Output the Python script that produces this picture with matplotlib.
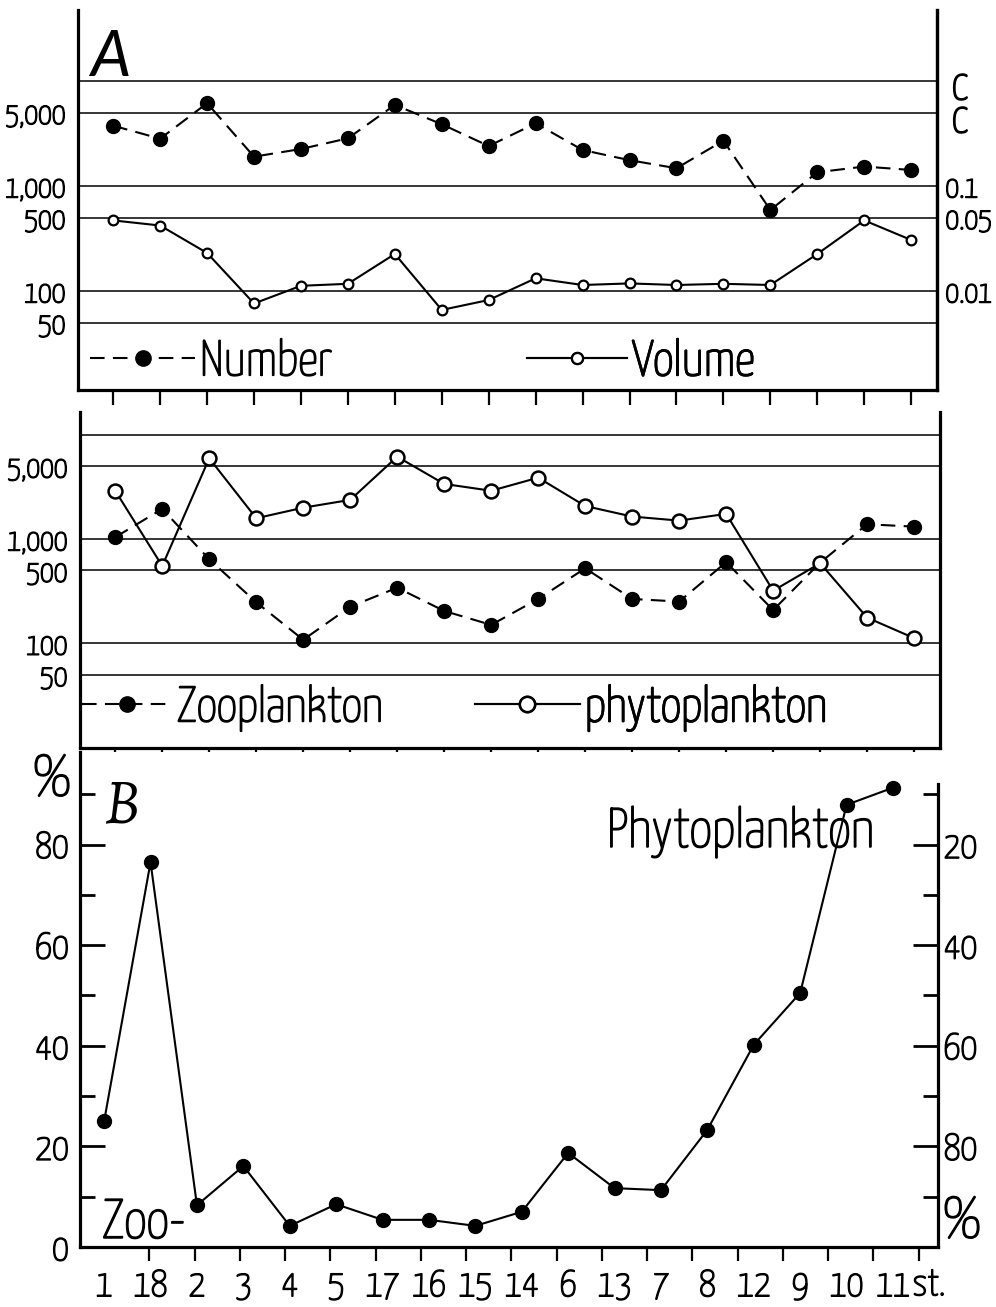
import numpy as np
import matplotlib
matplotlib.use("Agg")
import matplotlib.pyplot as plt
import matplotlib.transforms as mtransforms
import matplotlib.patheffects as pe
from matplotlib.text import Text
from matplotlib.lines import Line2D
from matplotlib.ticker import NullLocator, NullFormatter

# ─── figure size (px) and fonts ────────────────────────────────
W, H = 996, 1307
FONT = ["Yanone Kaffeesatz", "DejaVu Sans"]
ITAL = ["Lato", "DejaVu Sans"]
SERIF = ["Alegreya", "Liberation Serif", "DejaVu Serif"]
plt.rcParams["font.family"] = FONT

# ─── data ──────────────────────────────────────────────────────
stations = ["1", "18", "2", "3", "4", "5", "17", "16", "15", "14",
            "6", "13", "7", "8", "12", "9", "10", "11"]

# A, upper: number of organisms and settled volume (cc)
number = [3750, 2820, 6140, 1900, 2250, 2840, 5910, 3870, 2400, 3950,
          2200, 1760, 1475, 2700, 590, 1350, 1530, 1420]
volume_cc = [0.047, 0.042, 0.023, 0.0076, 0.0112, 0.0117, 0.0225, 0.0066, 0.0082,
             0.0132, 0.0114, 0.0118, 0.0114, 0.0117, 0.0114, 0.0225, 0.047, 0.0306]

# A, lower: zooplankton / phytoplankton numbers
zooplankton = [1040, 1940, 639, 247, 108, 224, 341, 204, 150, 266,
               523, 266, 251, 599, 208, 593, 1384, 1313]
phytoplankton = [2900, 551, 5940, 1580, 1995, 2370, 6150, 3370, 2900, 3870,
                 2070, 1640, 1500, 1740, 319, 585, 176, 112]

# B: zooplankton share (%), phytoplankton = 100 - zoo
zoo_pct = [25.0, 76.5, 8.3, 16.1, 4.2, 8.5, 5.4, 5.4, 4.2, 7.0,
           18.7, 11.7, 11.3, 23.3, 40.2, 50.5, 87.9, 91.3]

log_ticks = [10000, 5000, 1000, 500, 100, 50]
log_labels = ["", "5,000", "1,000", "500", "100", "50"]
cc_ticks = [0.1, 0.05, 0.01]
cc_labels = ["0.1", "0.05", "0.01"]
pct_ticks = [0, 20, 40, 60, 80]
pct_minor = [10, 30, 50, 70, 90]
phyto_ticks = [20, 40, 60, 80]
# ───────────────────────────────────────────────────────────────

x = np.arange(len(stations))
LW = 1.5
DASH = (0, (7, 4))
KEY_SIZE = 36


def box(x0, y0, x1, y1):
    """pixel box (top-left origin) -> figure fraction rect"""
    return [x0 / W, 1 - y1 / H, (x1 - x0) / W, (y1 - y0) / H]


def style_log_panel(ax, ylim):
    ax.set_yscale("log")
    ax.set_ylim(*ylim)
    ax.set_xlim(-0.75, 17.55)
    for y in log_ticks:
        ax.axhline(y, color="black", lw=1.1, zorder=1)
    ax.set_yticks(log_ticks, log_labels)
    ax.yaxis.set_minor_locator(NullLocator())
    ax.yaxis.set_minor_formatter(NullFormatter())
    ax.tick_params(axis="y", length=0, pad=9, labelsize=22)
    ax.set_xticks(x, [""] * len(x))
    ax.tick_params(axis="x", direction="out", length=11, width=1.6)
    ax.spines["top"].set_visible(False)
    for s in ("left", "right", "bottom"):
        ax.spines[s].set_linewidth(2.3)


def add_key(ax, handle, label, x0, y0, hl):
    leg = ax.legend([handle], [label], loc="center left", bbox_to_anchor=(x0, y0),
                    frameon=False, prop={"family": FONT, "size": KEY_SIZE},
                    handlelength=hl, handletextpad=0.1, borderpad=0, borderaxespad=0)
    ax.add_artist(leg)


fig = plt.figure(figsize=(W / 100, H / 100), dpi=100)

# ----------------------- panel A, upper ------------------------
ax1 = fig.add_axes(box(78, 10, 937, 390))
style_log_panel(ax1, (11.4, 47400))
ax1.plot(x, number, color="black", lw=LW, ls=DASH, marker="o", ms=10,
         mfc="black", mec="black", zorder=3)

ax1b = ax1.twinx()
ax1b.set_yscale("log")
lo, hi = ax1.get_ylim()
ax1b.set_ylim(lo * 1e-4, hi * 1e-4)
ax1b.set_yticks(cc_ticks, cc_labels)
ax1b.yaxis.set_minor_locator(NullLocator())
ax1b.yaxis.set_minor_formatter(NullFormatter())
ax1b.tick_params(axis="y", length=0, pad=6, labelsize=22)
for s in ("left", "top", "bottom"):
    ax1b.spines[s].set_visible(False)
ax1b.spines["right"].set_linewidth(2.3)
ax1b.plot(x, volume_cc, color="black", lw=LW, marker="o", ms=7,
          mfc="white", mec="black", mew=1.6, zorder=3)

add_key(ax1b, Line2D([], [], color="black", lw=LW, ls=DASH, marker="o", ms=11, mfc="black"),
        "Number", 0.014, 0.074, 2.1)
add_key(ax1b, Line2D([], [], color="black", lw=LW, marker="o", ms=8, mfc="white", mew=1.6),
        "Volume", 0.523, 0.074, 2.0)

panel_tags = [
    fig.text(90 / W, 1 - 76 / H, "A", fontsize=46, style="italic",
             family=ITAL, ha="left", va="baseline"),
]
# "cc" is lettered one c above the other
fig.text(960 / W, 1 - 86 / H, "c", fontsize=36, ha="center", va="center")
fig.text(960 / W, 1 - 119 / H, "c", fontsize=36, ha="center", va="center")

# ----------------------- panel A, lower ------------------------
ax2 = fig.add_axes(box(80, 412, 940, 748))
style_log_panel(ax2, (9.9, 16500))
ax2.plot(x, zooplankton, color="black", lw=LW, ls=DASH, marker="o", ms=10,
         mfc="black", mec="black", zorder=3)
ax2.plot(x, phytoplankton, color="black", lw=LW, marker="o", ms=10,
         mfc="white", mec="black", mew=1.8, zorder=4)

add_key(ax2, Line2D([], [], color="black", lw=LW, ls=DASH, marker="o", ms=11, mfc="black"),
        "Zooplankton", 0.002, 0.119, 1.8)
add_key(ax2, Line2D([], [], color="black", lw=LW, marker="o", ms=11, mfc="white", mew=1.8),
        "phytoplankton", 0.459, 0.119, 2.1)

# --------------------------- panel B ---------------------------
ax3 = fig.add_axes(box(80, 752, 938, 1247))
ax3.set_xlim(-0.52, 17.97)
ax3.set_ylim(0, 98.4)
ax3.plot(x, zoo_pct, color="black", lw=LW, marker="o", ms=10,
         mfc="black", mec="black", zorder=3)

ax3.set_yticks(pct_ticks, [str(t) for t in pct_ticks])
ax3.set_yticks(pct_minor, minor=True)
ax3.tick_params(axis="y", which="major", direction="in", length=18, width=2,
                labelsize=27, pad=8)
ax3.tick_params(axis="y", which="minor", direction="in", length=11, width=2)

ax3.set_xticks(x, stations)
ax3.set_xticks(np.linspace(0, 17.55, 19), minor=True)
ax3.tick_params(axis="x", which="major", length=0, pad=16, labelsize=27)
ax3.tick_params(axis="x", which="minor", direction="out", length=10, width=1.6)
ax3.spines["top"].set_visible(False)
ax3.spines["right"].set_visible(False)
for s in ("left", "bottom"):
    ax3.spines[s].set_linewidth(2.3)

ax3b = ax3.twinx()
ax3b.set_ylim(100, 100 - 98.4)
ax3b.set_yticks(phyto_ticks, [str(t) for t in phyto_ticks])
ax3b.set_yticks([100 - t for t in pct_minor], minor=True)
ax3b.tick_params(axis="y", which="major", direction="in", length=18, width=2,
                 labelsize=27, pad=4)
ax3b.tick_params(axis="y", which="minor", direction="in", length=11, width=2)
for s in ("left", "top", "bottom"):
    ax3b.spines[s].set_visible(False)
ax3b.spines["right"].set_linewidth(2.3)
ax3b.spines["right"].set_bounds(100, 8)

trans = mtransforms.blended_transform_factory(ax3.transData, ax3.transAxes)
ax3.text(17.42, -0.077, "st.", transform=trans, ha="left", va="center", fontsize=27)

panel_tags.append(fig.text(103 / W, 1 - 822 / H, "B", fontsize=46, style="italic",
                           family=SERIF, ha="left", va="baseline"))
fig.text(52 / W, 1 - 780 / H, "%", fontsize=42, ha="center", va="center")
fig.text(962 / W, 1 - 1222 / H, "%", fontsize=42, ha="center", va="center")
fig.text(607 / W, 1 - 847 / H, "Phytoplankton", fontsize=40, ha="left", va="baseline")
fig.text(102 / W, 1 - 1238 / H, "Zoo-", fontsize=40, ha="left", va="baseline")

# thicken the thin lettering a bit (pen-drawn look), not the panel letters
for t in fig.findobj(Text):
    if t.get_text() and t not in panel_tags:
        t.set_path_effects([pe.withStroke(linewidth=1.1, foreground="black")])

fig.savefig("out.png", dpi=100)
